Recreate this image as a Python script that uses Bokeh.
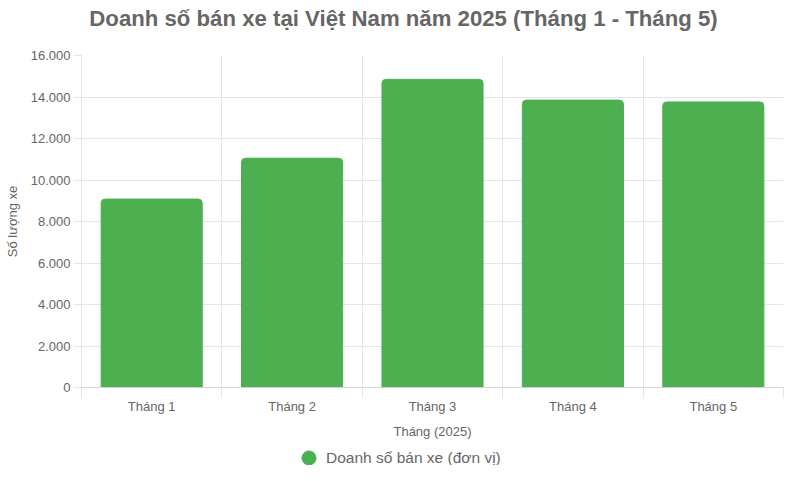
from bokeh.plotting import figure
from bokeh.models import FixedTicker, Legend, LegendItem, Label, ColumnDataSource, Range1d
from bokeh.layouts import column
from bokeh.embed import file_html
from bokeh.resources import INLINE

title_text = "Doanh số bán xe tại Việt Nam năm 2025 (Tháng 1 - Tháng 5)"
categories = ["Tháng 1", "Tháng 2", "Tháng 3", "Tháng 4", "Tháng 5"]
sales = [9080, 11050, 14850, 13850, 13760]
y_ticks = [0, 2000, 4000, 6000, 8000, 10000, 12000, 14000, 16000]
y_tick_labels = ["0", "2.000", "4.000", "6.000", "8.000", "10.000", "12.000", "14.000", "16.000"]
series_name = "Doanh số bán xe (đơn vị)"
x_title = "Tháng (2025)"
y_title = "Số lượng xe"

FONT = "Liberation Sans"
TEXT = "#666666"
GREEN = "#4caf50"
GRID = "#e5e5e5"
AXIS = "#d4d4d4"

W = 784
n = len(categories)
x_centers = [i + 0.5 for i in range(n)]
src = ColumnDataSource(dict(x=x_centers, top=sales, cat=categories))

# title strip
pt = figure(width=W, height=36, output_backend="svg", toolbar_location=None, title=None,
            x_range=Range1d(81, 783), y_range=Range1d(0, 36), min_border=0)
pt.axis.visible = False
pt.grid.visible = False
pt.outline_line_color = None
pt.border_fill_color = "white"
pt.add_layout(Label(x=403, y=18, text=title_text, text_align="center", text_baseline="middle",
                    text_font=FONT, text_font_size="22.2px", text_font_style="bold",
                    text_color=TEXT))

# main chart
p = figure(width=W, height=411, output_backend="svg", toolbar_location=None, title=None,
           x_range=Range1d(0, n), y_range=Range1d(y_ticks[0], y_ticks[-1]),
           min_border_left=81, min_border_right=1, min_border_top=19, min_border_bottom=60)
p.outline_line_color = None
p.background_fill_color = "white"
p.border_fill_color = "white"

p.vbar(x="x", top="top", width=0.72, bottom=0, source=src, fill_color=GREEN,
       line_color=GREEN, border_radius=(4, 4, 0, 0))

# x axis
xa = p.xaxis[0]
xa.ticker = FixedTicker(ticks=x_centers, minor_ticks=list(range(n + 1)))
xa.major_label_overrides = {x: c for x, c in zip(x_centers, categories)}
xa.major_tick_out = 0
xa.major_tick_in = 0
xa.minor_tick_out = 10
xa.minor_tick_in = 0
xa.minor_tick_line_color = GRID
xa.axis_line_color = AXIS
xa.major_label_standoff = 1
xa.major_label_text_font = FONT
xa.major_label_text_font_size = "13px"
xa.major_label_text_color = TEXT
xa.axis_label = x_title
xa.axis_label_text_font = FONT
xa.axis_label_text_font_size = "13px"
xa.axis_label_text_font_style = "normal"
xa.axis_label_text_color = TEXT
xa.axis_label_standoff = 7

# y axis
ya = p.yaxis[0]
ya.ticker = FixedTicker(ticks=y_ticks)
ya.major_label_overrides = {t: l for t, l in zip(y_ticks, y_tick_labels)}
ya.major_tick_out = 8
ya.major_tick_in = 0
ya.minor_tick_out = 0
ya.minor_tick_in = 0
ya.major_tick_line_color = GRID
ya.axis_line_color = GRID
ya.major_label_standoff = 3
ya.major_label_text_font = FONT
ya.major_label_text_font_size = "13px"
ya.major_label_text_color = TEXT
ya.axis_label = y_title
ya.axis_label_text_font = FONT
ya.axis_label_text_font_size = "13px"
ya.axis_label_text_font_style = "normal"
ya.axis_label_text_color = TEXT
ya.axis_label_standoff = 8

p.xgrid.ticker = FixedTicker(ticks=list(range(n + 1)))
p.xgrid.grid_line_color = GRID
p.ygrid.grid_line_color = GRID

# legend strip
pl = figure(width=W, height=18, output_backend="svg", toolbar_location=None, title=None,
            x_range=Range1d(0, 1), y_range=Range1d(0, 1), min_border=0)
pl.axis.visible = False
pl.grid.visible = False
pl.outline_line_color = None
pl.border_fill_color = "white"
dummy = pl.scatter(x=[float("nan")], y=[float("nan")], marker="circle",
                   fill_color=GREEN, line_color=GREEN)
legend = Legend(items=[LegendItem(label=series_name, renderers=[dummy])],
                orientation="horizontal", location=(210, -10),
                border_line_color=None, background_fill_alpha=0,
                label_text_font=FONT, label_text_font_size="15.5px", label_text_color=TEXT,
                glyph_width=35, glyph_height=35, label_standoff=0, padding=0, margin=0)
pl.add_layout(legend)

layout = column(pt, p, pl)
open("out.html", "w").write(file_html(layout, INLINE))
